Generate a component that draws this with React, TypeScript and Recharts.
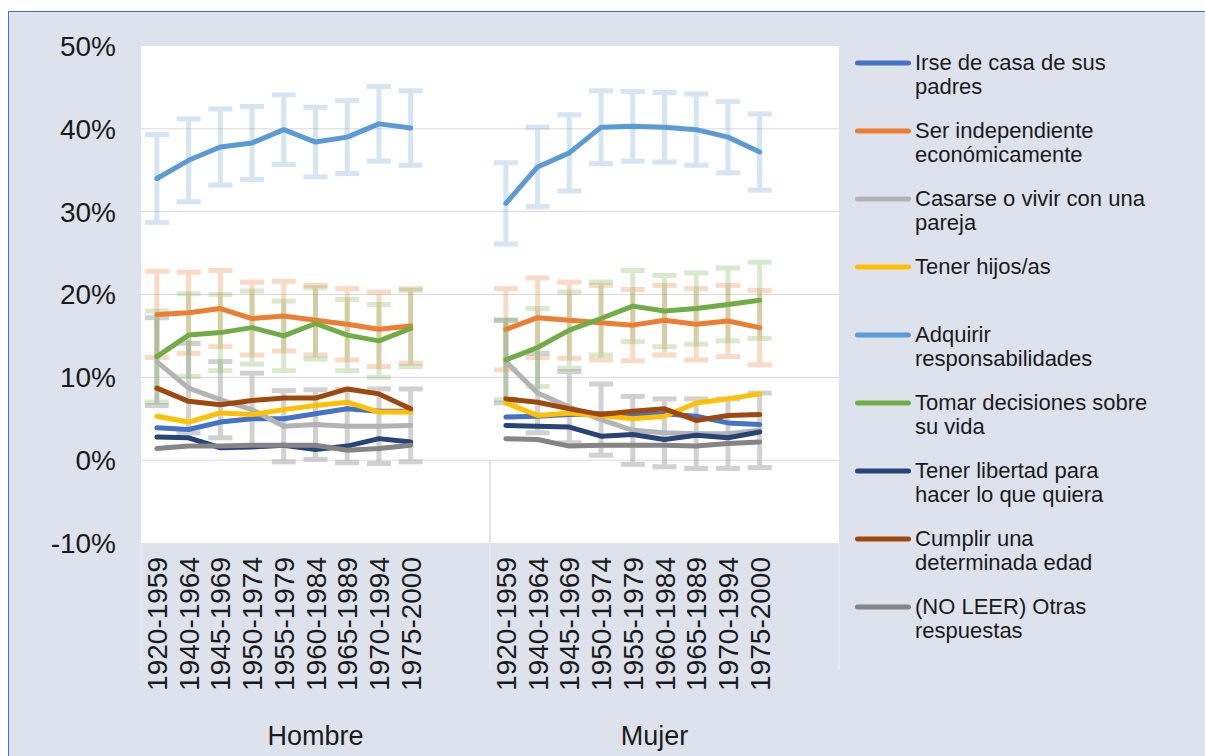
import React from 'react';
import {
  LineChart,
  Line,
  XAxis,
  YAxis,
  CartesianGrid,
  ErrorBar,
  ReferenceLine,
  Legend,
} from 'recharts';

// birth cohorts, repeated for each sex
const COHORTS = [
  '1920-1959', '1940-1964', '1945-1969', '1950-1974', '1955-1979',
  '1960-1984', '1965-1989', '1970-1994', '1975-2000',
];
const GROUPS = ['Hombre', 'Mujer'];
const GROUP_LABEL_DX = [0, -10];
const BLANK_SLOTS = 2;

const Y_TICKS = [-10, 0, 10, 20, 30, 40, 50];

// % per cohort (Hombre / Mujer)
const IRSE_H = [3.9, 3.7, 4.6, 5.0, 5.0, 5.6, 6.2, 5.9, 5.9];
const IRSE_M = [5.2, 5.3, 5.5, 5.6, 5.5, 5.6, 5.3, 4.5, 4.3];
const INDEP_H = [17.6, 17.8, 18.3, 17.1, 17.4, 16.9, 16.4, 15.8, 16.2];
const INDEP_M = [15.8, 17.2, 16.9, 16.6, 16.3, 16.9, 16.4, 16.8, 16.0];
const CASARSE_H = [11.9, 8.7, 7.3, 6.1, 4.1, 4.3, 4.1, 4.1, 4.2];
const CASARSE_M = [11.9, 8.1, 6.4, 4.9, 3.6, 3.3, 3.2, 3.2, 3.6];
const HIJOS_H = [5.3, 4.6, 5.7, 5.5, 6.1, 6.6, 7.0, 5.8, 5.8];
const HIJOS_M = [6.9, 5.4, 5.7, 5.4, 5.0, 5.3, 6.9, 7.4, 8.0];
const ADQ_H = [34.0, 36.2, 37.8, 38.3, 39.9, 38.4, 39.0, 40.6, 40.1];
const ADQ_M = [31.0, 35.4, 37.1, 40.2, 40.3, 40.2, 39.9, 39.0, 37.2];
const DECIS_H = [12.5, 15.1, 15.4, 16.0, 15.0, 16.5, 15.1, 14.4, 15.9];
const DECIS_M = [12.1, 13.6, 15.7, 17.1, 18.6, 18.0, 18.3, 18.8, 19.3];
const LIBERTAD_H = [2.8, 2.7, 1.5, 1.6, 1.8, 1.3, 1.7, 2.6, 2.2];
const LIBERTAD_M = [4.2, 4.1, 4.0, 2.9, 3.1, 2.5, 3.0, 2.7, 3.4];
const EDAD_H = [8.7, 7.1, 6.7, 7.2, 7.5, 7.5, 8.6, 8.0, 6.2];
const EDAD_M = [7.4, 7.0, 6.2, 5.5, 5.9, 6.2, 4.8, 5.4, 5.5];
const OTRAS_H = [1.4, 1.7, 1.7, 1.8, 1.8, 1.8, 1.2, 1.4, 1.8];
const OTRAS_M = [2.6, 2.5, 1.7, 1.8, 1.8, 1.8, 1.7, 2.0, 2.2];

// confidence intervals (+/- points)
const ADQ_H_ERR = [5.3, 5.0, 4.6, 4.4, 4.2, 4.2, 4.4, 4.5, 4.5];
const ADQ_M_ERR = [4.9, 4.8, 4.6, 4.4, 4.2, 4.2, 4.3, 4.3, 4.6];
const INDEP_H_ERR = [5.2, 4.9, 4.6, 4.4, 4.2, 4.2, 4.3, 4.5, 4.5];
const INDEP_M_ERR = [4.9, 4.8, 4.6, 4.5, 4.3, 4.2, 4.3, 4.3, 4.5];
const DECIS_H_ERR = [5.5, 5.0, 4.6, 4.4, 4.2, 4.3, 4.3, 4.4, 4.6];
const DECIS_M_ERR = [4.8, 4.7, 4.6, 4.4, 4.3, 4.3, 4.3, 4.4, 4.6];
const CASARSE_H_ERR = [5.3, 5.4, 4.6, 4.4, 4.3, 4.2, 4.4, 4.5, 4.4];
const CASARSE_M_ERR = [5.0, 4.8, 4.3, 4.3, 4.1, 4.1, 4.2, 4.2, 4.5];

interface SeriesDef {
  key: string;
  name: string;
  color: string;
  hombre: number[];
  mujer: number[];
  errH?: number[];
  errM?: number[];
  errOpacity?: number;
}

const SERIES: SeriesDef[] = [
  { key: 'irse', name: 'Irse de casa de sus\npadres', color: '#4472C4', hombre: IRSE_H, mujer: IRSE_M },
  {
    key: 'indep', name: 'Ser independiente\neconómicamente', color: '#ED7D31',
    hombre: INDEP_H, mujer: INDEP_M, errH: INDEP_H_ERR, errM: INDEP_M_ERR, errOpacity: 0.28,
  },
  {
    key: 'casarse', name: 'Casarse o vivir con una\npareja', color: '#B3B3B3',
    hombre: CASARSE_H, mujer: CASARSE_M, errH: CASARSE_H_ERR, errM: CASARSE_M_ERR, errOpacity: 0.6,
  },
  { key: 'hijos', name: 'Tener hijos/as', color: '#FFC000', hombre: HIJOS_H, mujer: HIJOS_M },
  {
    key: 'adq', name: 'Adquirir\nresponsabilidades', color: '#5B9BD5',
    hombre: ADQ_H, mujer: ADQ_M, errH: ADQ_H_ERR, errM: ADQ_M_ERR, errOpacity: 0.25,
  },
  {
    key: 'decis', name: 'Tomar decisiones sobre\nsu vida', color: '#70AD47',
    hombre: DECIS_H, mujer: DECIS_M, errH: DECIS_H_ERR, errM: DECIS_M_ERR, errOpacity: 0.26,
  },
  { key: 'libertad', name: 'Tener libertad para\nhacer lo que quiera', color: '#264478', hombre: LIBERTAD_H, mujer: LIBERTAD_M },
  { key: 'edad', name: 'Cumplir una\ndeterminada edad', color: '#9E480E', hombre: EDAD_H, mujer: EDAD_M },
  { key: 'otras', name: '(NO LEER) Otras\nrespuestas', color: '#858585', hombre: OTRAS_H, mujer: OTRAS_M },
];

type Row = Record<string, string | number | null>;

const GROUP_SIZE = COHORTS.length + BLANK_SLOTS;

const ROWS: Row[] = GROUPS.flatMap((group, gi) => {
  const filled = COHORTS.map((cohort, i) => {
    const row: Row = { slot: `${group}|${cohort}`, group, cohort };
    SERIES.forEach((s) => {
      row[s.key] = (gi === 0 ? s.hombre : s.mujer)[i];
      const errs = gi === 0 ? s.errH : s.errM;
      if (errs) row[`${s.key}Err`] = errs[i];
    });
    return row;
  });
  const blanks = Array.from({ length: BLANK_SLOTS }, (_, b) => {
    const row: Row = { slot: `${group}|blank${b}`, group, cohort: '' };
    SERIES.forEach((s) => { row[s.key] = null; });
    return row;
  });
  return [...filled, ...blanks];
});

const FONT = '"Liberation Sans", Arial, sans-serif';
const TEXT = '#1a1a1a';
const GRID = '#d9d9d9';
const BG = '#DEE2EC';

const CohortTick = (props: any) => {
  const { x, y, index } = props;
  const row = ROWS[index];
  if (!row) return null;
  const groupIdx = Math.floor(index / GROUP_SIZE);
  const showGroup = index % GROUP_SIZE === Math.floor(GROUP_SIZE / 2);
  return (
    <g>
      {row.cohort ? (
        <text
          transform={`translate(${x},${y}) rotate(-90)`}
          textAnchor="end"
          dy="0.36em"
          fontSize={28}
          fontFamily={FONT}
          fill={TEXT}
        >
          {row.cohort}
        </text>
      ) : null}
      {showGroup ? (
        <text
          x={x + GROUP_LABEL_DX[groupIdx]}
          y={y + 188}
          textAnchor="middle"
          fontSize={27}
          fontFamily={FONT}
          fill={TEXT}
        >
          {row.group}
        </text>
      ) : null}
    </g>
  );
};

const renderLegend = () => (
  <div style={{ fontFamily: FONT, fontSize: 22, color: TEXT }}>
    {SERIES.map((s) => (
      <div key={s.key} style={{ display: 'flex', alignItems: 'flex-start', height: 68 }}>
        <svg width={62} height={24} style={{ flex: 'none' }}>
          <line x1={4.5} x2={55.5} y1={12} y2={12} stroke={s.color} strokeWidth={5} strokeLinecap="round" />
        </svg>
        <div style={{ whiteSpace: 'pre-line', lineHeight: '24px' }}>{s.name}</div>
      </div>
    ))}
  </div>
);

const lastOfGroup = (g: number) => ROWS[g * GROUP_SIZE + GROUP_SIZE - 1].slot as string;

export default function App() {
  return (
    <div
      style={{
        position: 'fixed',
        left: 8,
        top: 11,
        width: 1197,
        height: 745,
        background: BG,
        boxShadow: 'inset 1px 1px 0 #4472C4',
      }}
    >
      <LineChart
        width={1197}
        height={745}
        data={ROWS}
        margin={{ top: 35, right: 366, left: 0, bottom: 3 }}
      >
        <CartesianGrid
          vertical={false}
          stroke={GRID}
          fill="#ffffff"
          horizontalValues={[0, 10, 20, 30, 40]}
        />
        <XAxis
          dataKey="slot"
          scale="band"
          interval={0}
          height={210}
          axisLine={false}
          tickLine={false}
          tickSize={0}
          tickMargin={14}
          tick={(p: any) => <CohortTick {...p} />}
        />
        <YAxis
          type="number"
          domain={[-10, 50]}
          ticks={Y_TICKS}
          width={133}
          axisLine={false}
          tickLine={false}
          tickSize={0}
          tickMargin={25}
          tickFormatter={(v: number) => `${v}%`}
          tick={{ fill: TEXT, fontSize: 28, fontFamily: FONT }}
        />

        {/* group dividers */}
        <ReferenceLine
          segment={[{ x: lastOfGroup(0), y: 0 }, { x: lastOfGroup(0), y: -10 }]}
          position="end"
          stroke={GRID}
          strokeWidth={1.5}
        />
        {[
          { slot: ROWS[0].slot as string, position: 'start' },
          { slot: lastOfGroup(0), position: 'end' },
          { slot: lastOfGroup(1), position: 'end' },
        ].map((d) => (
          <ReferenceLine
            key={`div-${d.slot}`}
            segment={[{ x: d.slot, y: -10 }, { x: d.slot, y: -25.4 }]}
            position={d.position as any}
            ifOverflow="visible"
            stroke="#e8ebf2"
            strokeWidth={1.5}
          />
        ))}

        {/* confidence intervals drawn underneath all lines */}
        {SERIES.filter((s) => s.errH).map((s) => (
          <Line
            key={`${s.key}-err`}
            name={`${s.key}-err`}
            dataKey={s.key}
            stroke="none"
            strokeWidth={0}
            dot={false}
            activeDot={false}
            legendType="none"
            isAnimationActive={false}
          >
            <ErrorBar
              dataKey={`${s.key}Err`}
              direction="y"
              width={12}
              strokeWidth={5}
              stroke={s.color}
              opacity={s.errOpacity}
              isAnimationActive={false}
            />
          </Line>
        ))}

        {SERIES.map((s) => (
          <Line
            key={s.key}
            name={s.name}
            dataKey={s.key}
            type="linear"
            stroke={s.color}
            strokeWidth={5}
            strokeLinecap="round"
            strokeLinejoin="round"
            dot={false}
            activeDot={false}
            isAnimationActive={false}
          />
        ))}

        <Legend
          layout="vertical"
          align="center"
          verticalAlign="middle"
          content={renderLegend}
          wrapperStyle={{ left: 845, top: 40, width: 345, height: 620 }}
        />
      </LineChart>
    </div>
  );
}
